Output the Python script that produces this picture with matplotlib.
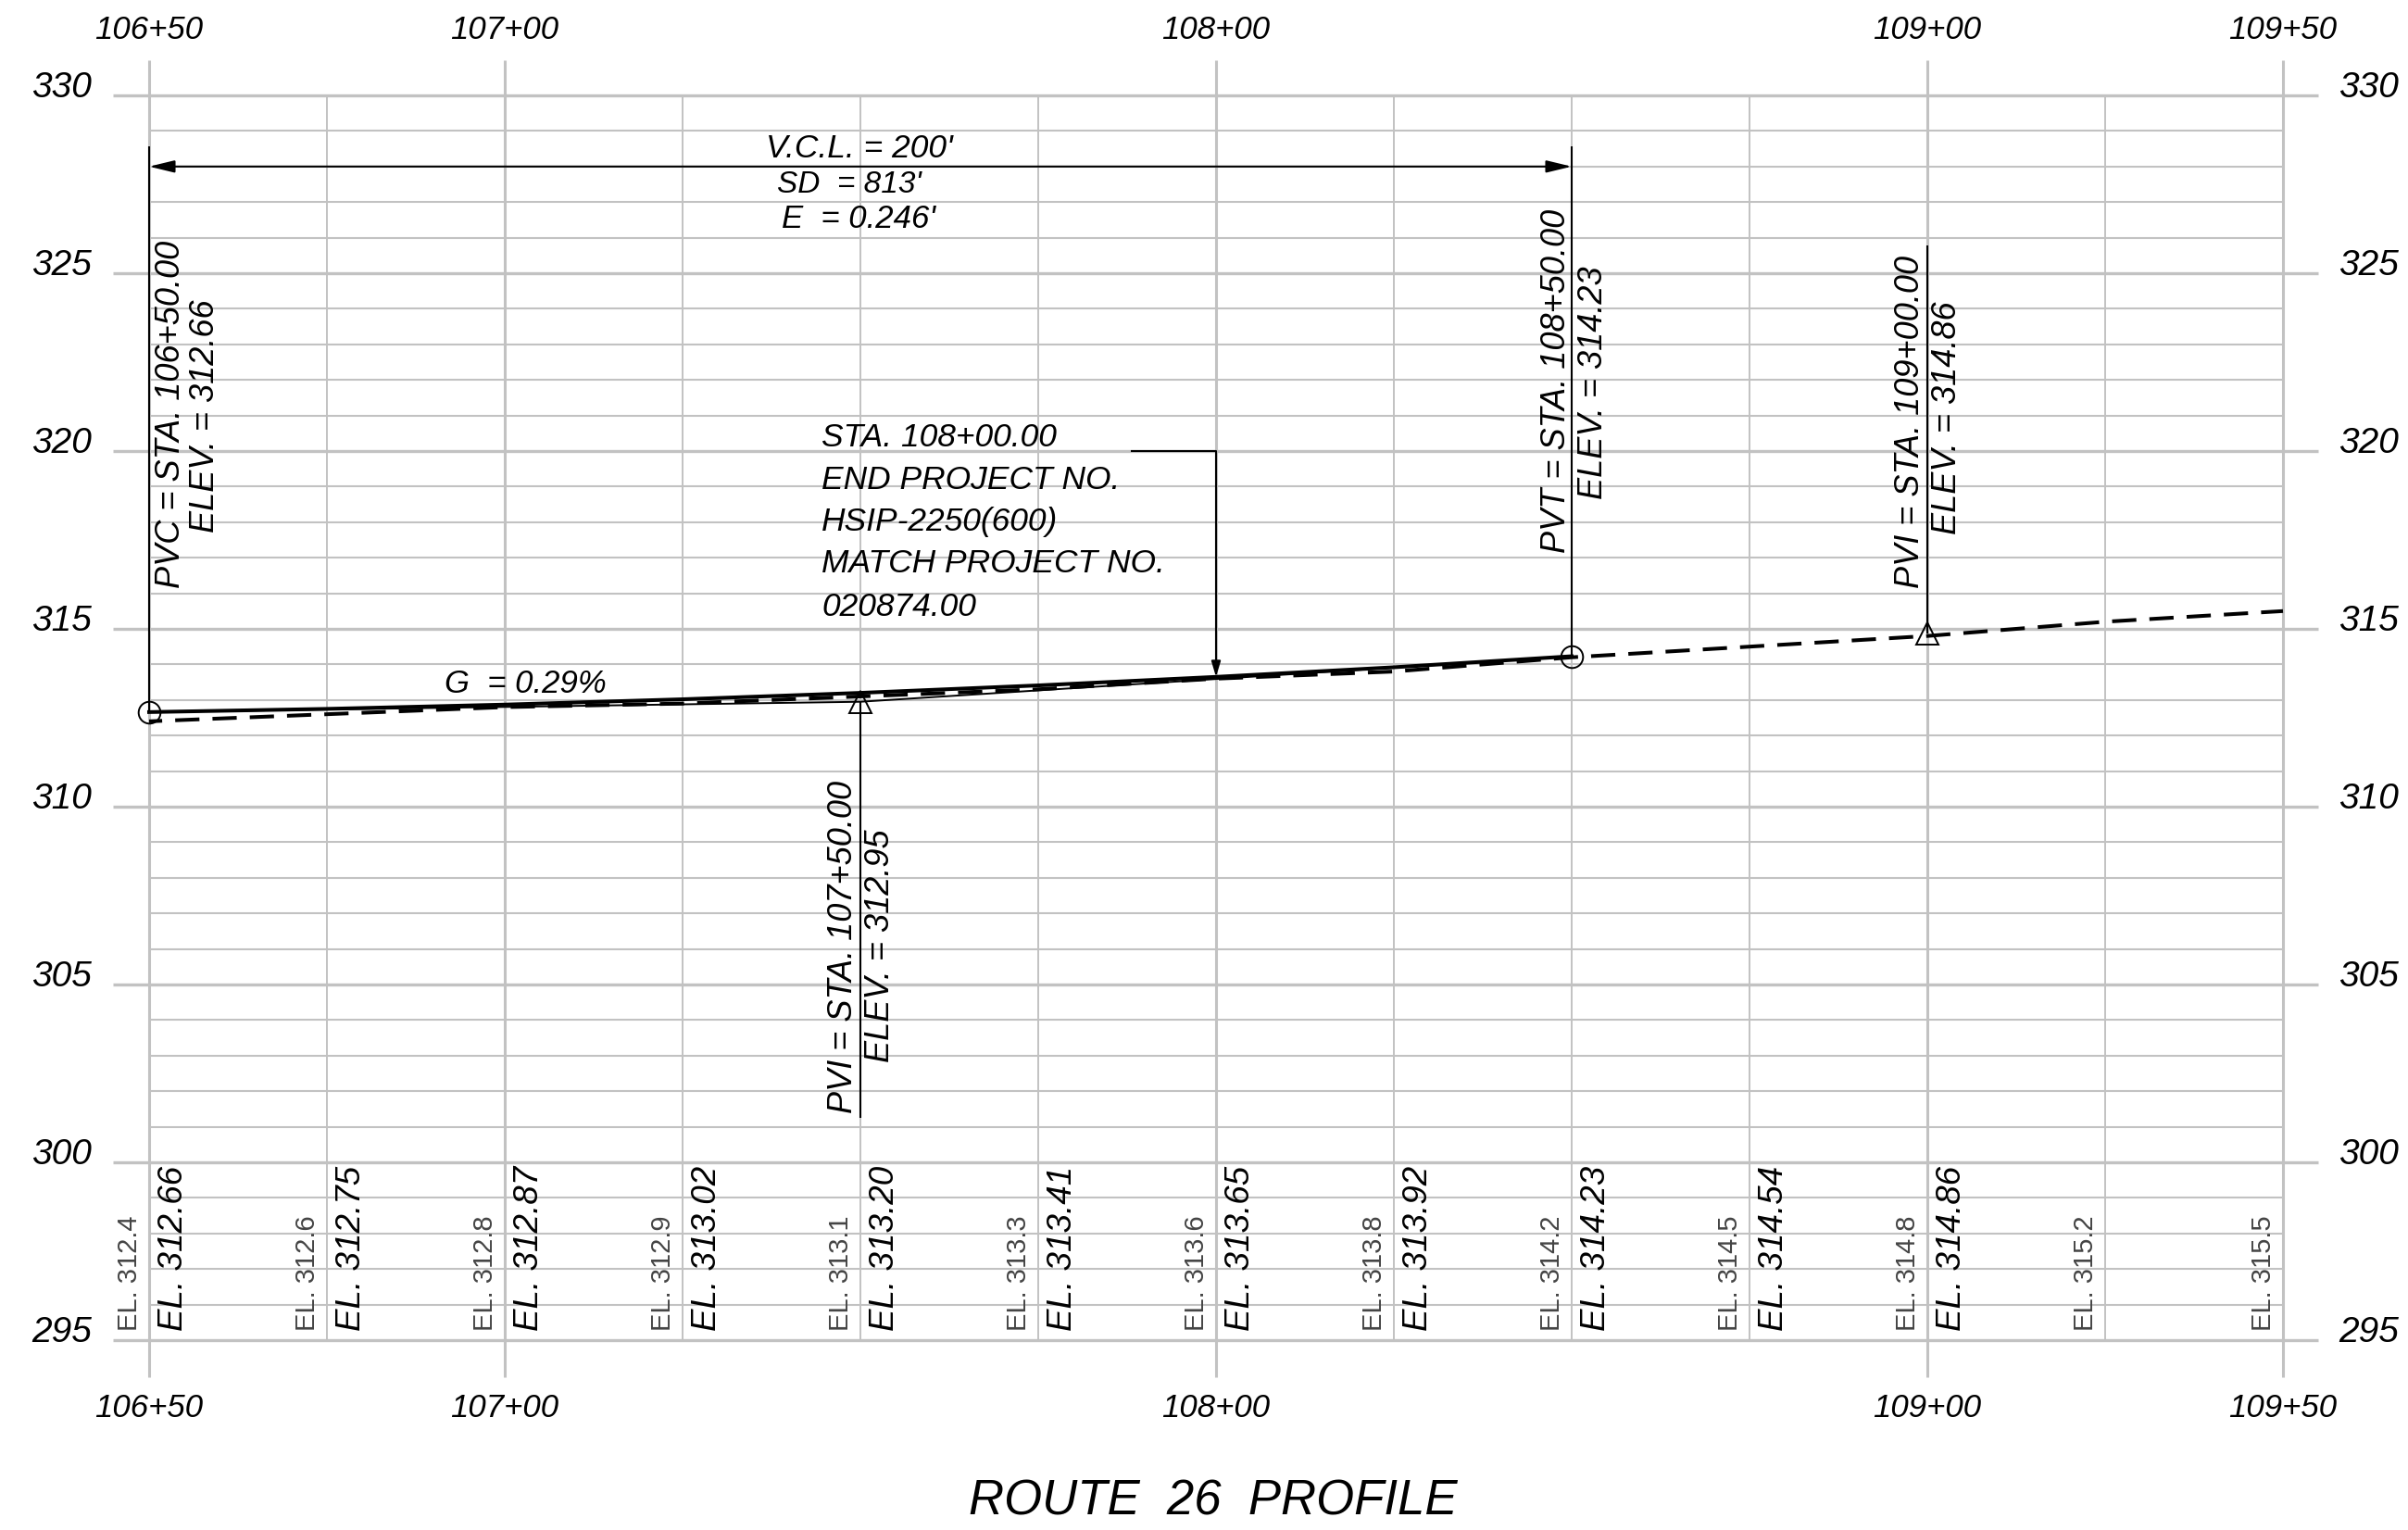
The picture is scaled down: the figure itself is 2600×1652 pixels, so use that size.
import matplotlib
matplotlib.use("Agg")
import matplotlib.pyplot as plt
import numpy as np

# stations in feet, elevations in feet
stations = [10650, 10675, 10700, 10725, 10750, 10775, 10800, 10825, 10850, 10875, 10900, 10925, 10950]
existing = [312.4, 312.6, 312.8, 312.9, 313.1, 313.3, 313.6, 313.8, 314.2, 314.5, 314.8, 315.2, 315.5]
proposed = [312.66, 312.75, 312.87, 313.02, 313.20, 313.41, 313.65, 313.92, 314.23, 314.54, 314.86]
proposed_labels = ["312.66", "312.75", "312.87", "313.02", "313.20", "313.41", "313.65", "313.92", "314.23", "314.54", "314.86"]

major_stations = [10650, 10700, 10800, 10900, 10950]
minor_stations = [10675, 10725, 10750, 10775, 10825, 10850, 10875, 10925]
station_labels = ["106+50", "107+00", "108+00", "109+00", "109+50"]
major_elev = [295, 300, 305, 310, 315, 320, 325, 330]
minor_elev = [e for e in range(296, 330) if e % 5 != 0]

tangent_sta = [10650, 10750, 10850]
tangent_elev = [312.66, 312.95, 314.23]
pvi_sta = [10750, 10900]
pvi_elev = [312.95, 314.86]
curve_end = 9  # proposed profile is drawn up to the PVT

W, H = 2600, 1652
GRAY = "#c2c2c2"
CAD = "Liberation Sans"

fig = plt.figure(figsize=(W / 100, H / 100), dpi=100)
ax = fig.add_axes([0, 0, 1, 1])
ax.set_xlim(10650 - 161 / 7.68, 10650 + (W - 161) / 7.68)
ax.set_ylim(330 - (H - 103) / 38.4, 330 + 103 / 38.4)
ax.axis("off")


def label(x, y, s, size=25, **kw):
    # x, y in image pixels from the top left
    kw.setdefault("ha", "center")
    kw.setdefault("va", "center")
    kw.setdefault("family", CAD)
    kw.setdefault("style", "italic")
    kw.setdefault("color", "black")
    fig.text(x / W, 1 - y / H, s, fontsize=size, **kw)


# grid
ax.hlines(minor_elev, 10650, 10950, color=GRAY, lw=1.5, zorder=1)
ax.vlines(minor_stations, 295, 330, color=GRAY, lw=1.4, zorder=1)
ax.hlines(major_elev, 10644.9, 10955, color=GRAY, lw=2.4, zorder=1)
ax.vlines(major_stations, 293.95, 330 + 38 / 38.4, color=GRAY, lw=2.2, zorder=1)

# profile lines
ax.plot(stations, existing, color="black", lw=2.9, linestyle=(3, (6.5, 3.5)), zorder=3)
ax.plot(stations[:curve_end], proposed[:curve_end], color="black", lw=2.9, zorder=3)
ax.plot(tangent_sta, tangent_elev, color="black", lw=1.4, zorder=3)

# PVC / PVT / PVI symbols
ax.plot(tangent_sta[0], tangent_elev[0], "o", ms=17, mfc="none", mec="black", mew=1.4, zorder=4)
ax.plot(tangent_sta[2], tangent_elev[2], "o", ms=17, mfc="none", mec="black", mew=1.4, zorder=4)
ax.plot(pvi_sta, pvi_elev, "^", ms=17, mfc="none", mec="black", mew=1.4, zorder=4)

# leaders
ax.vlines(10650, 312.66, 328.57, color="black", lw=1.5, zorder=3)
ax.vlines(10850, 314.23, 328.57, color="black", lw=1.5, zorder=3)
ax.vlines(10900, 314.86, 325.78, color="black", lw=1.5, zorder=3)
ax.vlines(10750, 301.25, 312.95, color="black", lw=1.5, zorder=3)
ax.hlines(320, 10788, 10800, color="black", lw=1.5, zorder=3)
ax.annotate("", xy=(10650, 328), xytext=(10850, 328),
            arrowprops=dict(arrowstyle="<|-|>,head_length=0.83,head_width=0.2", mutation_scale=20,
                            color="black", lw=1.5, shrinkA=0, shrinkB=0), zorder=5)
ax.annotate("", xy=(10800, 313.65), xytext=(10800, 320),
            arrowprops=dict(arrowstyle="-|>,head_length=0.5,head_width=0.15", mutation_scale=20,
                            color="black", lw=1.5, shrinkA=0, shrinkB=0), zorder=5)

# axis labels
for e in major_elev:
    y = 103 + (330 - e) * 38.4 - 8
    label(67, y, str(e), size=28)
    label(2558, y, str(e), size=28)
for s, t in zip(major_stations, station_labels):
    x = 161 + (s - 10650) * 7.68
    label(x, 32, t, size=25)
    label(x, 1521, t, size=25)

# curve data
label(928, 161, "V.C.L. = 200'", size=25.5)
label(917, 199, "SD  = 813'", size=24)
label(927, 237, "E  = 0.246'", size=25)
label(567, 738, "G  = 0.29%", size=25)

block = ["STA. 108+00.00", "END PROJECT NO.", "HSIP-2250(600)", "MATCH PROJECT NO.", "020874.00"]
block_y = [472, 518, 563, 609, 656]
for t, y in zip(block, block_y):
    label(887, y, t, size=25.5, ha="left")

# vertical callouts
callouts = [
    (184, 635, "PVC = STA. 106+50.00"), (221, 575, "ELEV. = 312.66"),
    (1680, 597, "PVT = STA. 108+50.00"), (1720, 539, "ELEV. = 314.23"),
    (2063, 635, "PVI = STA. 109+00.00"), (2103, 577, "ELEV. = 314.86"),
    (911, 1202, "PVI = STA. 107+50.00"), (950, 1147, "ELEV. = 312.95"),
]
for x, y, t in callouts:
    label(x, y, t, size=26, rotation=90, va="bottom")

# elevations along the bottom
for s, e in zip(stations, existing):
    ax.text(s - 2.7, 295.27, "EL. %.1f" % e, rotation=90, ha="center", va="bottom",
            family="Liberation Sans", fontsize=21, color="#444444", zorder=5)
for s, t in zip(stations, proposed_labels):
    ax.text(s + 3.4, 295.27, "EL. " + t, rotation=90, ha="center", va="bottom",
            family=CAD, style="italic", fontsize=26.5, color="black", zorder=5)

label(1310, 1621, "ROUTE  26  PROFILE", size=38)

fig.savefig("out.png", dpi=100)
